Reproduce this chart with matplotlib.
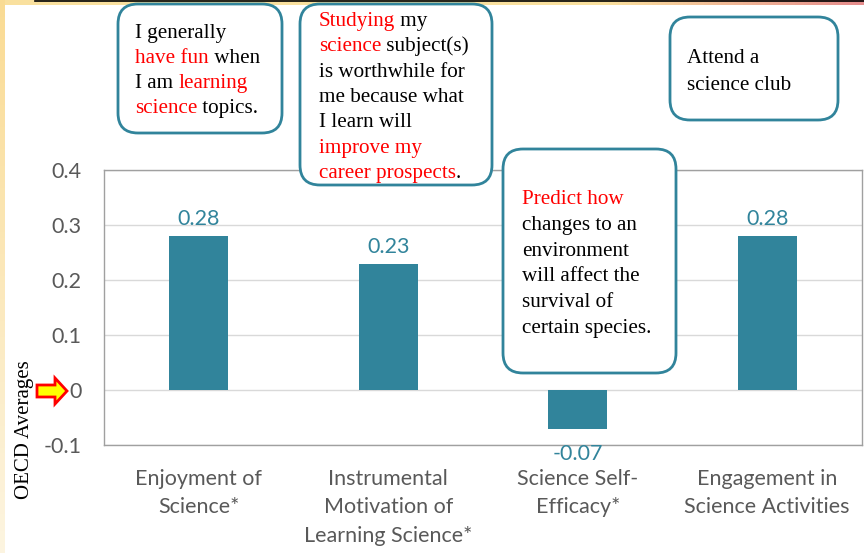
import numpy as np
import matplotlib
matplotlib.use("Agg")
import matplotlib.pyplot as plt
from matplotlib.patches import FancyBboxPatch, Polygon

# data
categories = ["Enjoyment of\nScience*", "Instrumental\nMotivation of\nLearning Science*",
              "Science Self-\nEfficacy*", "Engagement in\nScience Activities"]
values = [0.28, 0.23, -0.07, 0.28]
value_labels = ["0.28", "0.23", "-0.07", "0.28"]
yticks = [-0.1, 0, 0.1, 0.2, 0.3, 0.4]
ytick_labels = ["-0.1", "0", "0.1", "0.2", "0.3", "0.4"]

# callout texts: list of lines, each line a list of (text, colour)
R, K = "#FF0000", "#000000"
callouts = [
    [[("I generally", K)],
     [("have fun", R), (" when", K)],
     [("I am ", K), ("learning", R)],
     [("science", R), (" topics.", K)]],
    [[("Studying", R), (" my", K)],
     [("science", R), (" subject(s)", K)],
     [("is worthwhile for", K)],
     [("me because what", K)],
     [("I learn will", K)],
     [("improve my", R)],
     [("career prospects", R), (".", K)]],
    [[("Predict how", R)],
     [("changes to an", K)],
     [("environment", K)],
     [("will affect the", K)],
     [("survival of", K)],
     [("certain species.", K)]],
    [[("Attend a", K)],
     [("science club", K)]],
]

W, H = 864, 553
teal = "#31849B"
serif_size = 15.2
sans_size = 15.5
fig = plt.figure(figsize=(W / 100, H / 100), dpi=100)
fig.patch.set_facecolor("white")

# main chart
ax = fig.add_axes([104 / W, (H - 445) / H, 758 / W, 275 / H])
x = np.arange(len(categories))
ax.bar(x, values, width=0.31, color=teal, zorder=3)
for xi, v, lab in zip(x, values, value_labels):
    off = 0.012 if v >= 0 else -0.028
    ax.text(xi, v + off, lab, ha="center", va="bottom" if v >= 0 else "top",
            color=teal, fontsize=sans_size, family="Lato", zorder=4)
ax.set_xlim(-0.5, len(categories) - 0.5)
ax.set_ylim(-0.1, 0.4)
ax.set_yticks(yticks)
ax.set_yticklabels(ytick_labels)
ax.set_xticks(x)
ax.set_xticklabels(categories, linespacing=1.55)
ax.tick_params(length=0, colors="#595959", labelsize=sans_size)
ax.tick_params(axis="y", pad=16)
ax.tick_params(axis="x", pad=17)
for lab in ax.get_xticklabels() + ax.get_yticklabels():
    lab.set_family("Lato")
ax.grid(axis="y", color="#D9D9D9", lw=1, zorder=0)
for s in ax.spines.values():
    s.set_color("#A0A0A0")
    s.set_linewidth(1)

# overlay in pixel coordinates
ov = fig.add_axes([0, 0, 1, 1], zorder=5)
ov.axis("off")
ov.patch.set_alpha(0)

# slide decoration: top band and left strip
top_cols = np.array([[0.98, 0.88, 0.62]] * 200)
top_cols[140:] = np.linspace([0.98, 0.88, 0.62], [0.90, 0.55, 0.55], 60)
ov.imshow(top_cols[None, :, :], extent=(0, W, 5, 0), aspect="auto", zorder=0)
left_cols = np.linspace([0.98, 0.86, 0.58], [0.99, 0.96, 0.88], 100)[:, None, :]
ov.imshow(left_cols, extent=(0, 5, H, 0), aspect="auto", zorder=0)
ov.plot([35, W], [0.5, 0.5], color="black", lw=1.2, zorder=1)
ov.set_xlim(0, W)
ov.set_ylim(H, 0)

boxes = [(118, 4, 282, 133), (300, 4, 492, 185), (503, 149, 676, 373), (670, 17, 838, 120)]
starts = [(135, 38, 25), (319, 26, 25.3), (522, 204, 25.8), (687, 63, 27)]

fig.canvas.draw()
rend = fig.canvas.get_renderer()


def text_width(s):
    t = ov.text(0, 0, s, fontsize=serif_size, family="Liberation Serif")
    w = t.get_window_extent(rend).width
    t.remove()
    return w


bar_w = text_width("|")
for (x0, y0, x1, y1), (tx, ty, dy), lines in zip(boxes, starts, callouts):
    ov.add_patch(FancyBboxPatch((x0 + 10, y0 + 10), x1 - x0 - 20, y1 - y0 - 20,
                                boxstyle="round,pad=10,rounding_size=20",
                                fc="white", ec=teal, lw=2, zorder=4))
    for i, line in enumerate(lines):
        prefix = ""
        for seg, col in line:
            px = tx + (text_width(prefix + "|") - bar_w if prefix else 0)
            ov.text(px, ty + i * dy, seg, fontsize=serif_size, family="Liberation Serif",
                    color=col, va="baseline", ha="left", zorder=5)
            prefix += seg

# y label and arrow
ov.text(24, 430, "OECD Averages", rotation=90, fontsize=15, family="Liberation Serif",
        ha="center", va="center", color="black")
arrow = Polygon([(37, 385), (55, 385), (55, 378), (67, 391), (55, 404), (55, 397), (37, 397)],
                closed=True, fc="#FFFF00", ec="#FF0000", lw=2, zorder=5)
ov.add_patch(arrow)

fig.savefig("out.png", dpi=100)
